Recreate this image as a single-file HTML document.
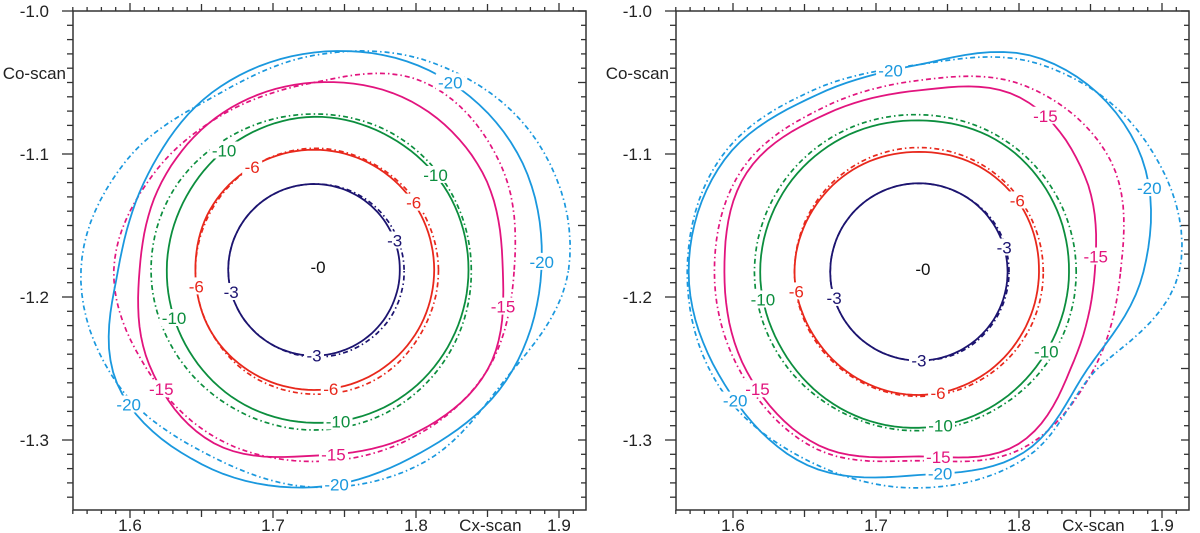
<!DOCTYPE html>
<html><head><meta charset="utf-8">
<style>
html,body{margin:0;padding:0;background:#fff;}
svg{display:block;font-family:"Liberation Sans",sans-serif;}
</style></head>
<body>
<svg id="chart" width="1200" height="533" viewBox="0 0 1200 533" xmlns="http://www.w3.org/2000/svg"></svg>
<script>
// ---- data ----
const levels = ["-3", "-6", "-10", "-15", "-20"];
const levelColors = ["#1c1470", "#e8281c", "#0c8e3e", "#e2147e", "#1a98de"];
const angles = [0, 30, 60, 90, 120, 150, 180, 210, 240, 270, 300, 330];
// left panel contour radii (data units) at each angle
const leftCenter = [1.7287, -1.181];
const leftSolid = [
  [0.060,0.060,0.060,0.060,0.060,0.060,0.060,0.060,0.060,0.060,0.060,0.060],
  [0.084,0.084,0.084,0.084,0.084,0.084,0.083,0.084,0.084,0.084,0.084,0.084],
  [0.108,0.108,0.107,0.107,0.105,0.103,0.103,0.104,0.106,0.107,0.108,0.108],
  [0.132,0.136,0.136,0.131,0.127,0.123,0.122,0.133,0.140,0.130,0.134,0.140],
  [0.159,0.164,0.161,0.152,0.143,0.134,0.137,0.159,0.157,0.152,0.148,0.155]
];
const leftDash = [
  [0.063,0.062,0.061,0.060,0.060,0.060,0.060,0.060,0.060,0.061,0.062,0.063],
  [0.087,0.086,0.085,0.085,0.084,0.083,0.083,0.084,0.086,0.087,0.088,0.087],
  [0.110,0.110,0.110,0.109,0.110,0.113,0.114,0.113,0.112,0.112,0.112,0.111],
  [0.140,0.150,0.152,0.131,0.126,0.131,0.140,0.136,0.136,0.134,0.136,0.140],
  [0.178,0.180,0.167,0.150,0.140,0.152,0.163,0.159,0.149,0.152,0.155,0.154]
];
// right panel
const rightCenter = [1.730, -1.1825];
const rightSolid = [
  [0.062,0.062,0.062,0.062,0.062,0.062,0.062,0.062,0.062,0.062,0.062,0.062],
  [0.084,0.085,0.085,0.084,0.085,0.086,0.087,0.086,0.086,0.086,0.085,0.084],
  [0.105,0.106,0.107,0.106,0.108,0.110,0.111,0.110,0.110,0.109,0.107,0.105],
  [0.123,0.134,0.141,0.127,0.128,0.139,0.136,0.139,0.140,0.129,0.139,0.125],
  [0.157,0.176,0.172,0.145,0.143,0.157,0.161,0.157,0.156,0.142,0.146,0.136]
];
const rightDash = [
  [0.063,0.063,0.062,0.062,0.062,0.062,0.062,0.062,0.062,0.062,0.063,0.063],
  [0.087,0.087,0.087,0.087,0.087,0.087,0.087,0.087,0.087,0.087,0.087,0.087],
  [0.110,0.110,0.110,0.110,0.112,0.114,0.115,0.114,0.112,0.111,0.110,0.110],
  [0.141,0.155,0.150,0.134,0.133,0.143,0.143,0.143,0.143,0.132,0.143,0.140],
  [0.182,0.183,0.168,0.145,0.147,0.160,0.162,0.161,0.153,0.151,0.150,0.141]
];
// labels: [levelIndex, angleDeg]
const leftLabels = [[0,20],[0,195],[0,270],[1,121],[1,34],[1,188],[1,278],[2,127],[2,38],[2,199],[2,279],[3,349],[3,218],[3,276],[4,54],[4,2],[4,216],[4,276]];
const rightLabels = [[0,16],[0,197],[0,270],[1,36],[1,189],[1,279],[2,328],[2,190],[2,278],[3,51],[3,5],[3,216],[3,276],[4,98],[4,20],[4,215],[4,276]];
const yTicks = ["-1.0", "-1.1", "-1.2", "-1.3"];
const xTicks = ["1.6", "1.7", "1.8", "1.9"];

// ---- drawing ----
const NS = "http://www.w3.org/2000/svg";
const svg = document.getElementById("chart");
const PXU = 1430; // px per data unit
function mk(tag, attrs, parent) {
  const e = document.createElementNS(NS, tag);
  for (const k in attrs) e.setAttribute(k, attrs[k]);
  (parent || svg).appendChild(e);
  return e;
}
function rInterp(rs, deg) {
  const n = rs.length, step = 360 / n;
  let t = ((deg % 360) + 360) % 360 / step;
  const i = Math.floor(t); t -= i;
  const p0 = rs[(i - 1 + n) % n], p1 = rs[i % n], p2 = rs[(i + 1) % n], p3 = rs[(i + 2) % n];
  return 0.5 * ((2 * p1) + (-p0 + p2) * t + (2 * p0 - 5 * p1 + 4 * p2 - p3) * t * t + (-p0 + 3 * p1 - 3 * p2 + p3) * t * t * t);
}
function panel(name, x0, center, solid, dash, labels) {
  const g = mk("g", {});
  
  
  const left = x0, right = x0 + 513, top = 11, bottom = 510;
  const sx = v => x0 + 57 + (v - 1.6) * PXU;
  const sy = v => 11 + (-1.0 - v) * PXU;
  const cx = sx(center[0]), cy = sy(center[1]);
  const pt = (rs, deg) => { const r = rInterp(rs, deg) * PXU; const a = deg * Math.PI / 180; return [cx + r * Math.cos(a), cy - r * Math.sin(a)]; };
  function pathOf(rs) {
    let d = "";
    for (let a = 0; a <= 360; a += 3) { const p = pt(rs, a); d += (a ? "L" : "M") + p[0].toFixed(1) + "," + p[1].toFixed(1); }
    return d + "Z";
  }
  for (let i = 0; i < levels.length; i++) {
    const pd = mk("path", { d: pathOf(dash[i]), fill: "none", stroke: levelColors[i], "stroke-width": 1.7, "stroke-dasharray": "5,3,1.5,3" }, g);
    
    
    const ps = mk("path", { d: pathOf(solid[i]), fill: "none", stroke: levelColors[i], "stroke-width": 1.8 }, g);
    
    
  }
  // labels
  const lab = (txt, x, y, col) => {
    const w = txt.length * 9 + 2;
    mk("rect", { x: x - w / 2, y: y - 9, width: w, height: 17, fill: "#fff" }, g);
    const t = mk("text", { x: x, y: y + 6, "text-anchor": "middle", "font-size": 17, fill: col }, g);
    t.textContent = txt;
    
    
  };
  labels.forEach(l => { const p = pt(solid[l[0]], l[1]); lab(levels[l[0]], p[0], p[1], levelColors[l[0]]); });
  lab("-0", cx + 4, cy - 3, "#111");
  // frame
  const fr = mk("rect", { x: left, y: top, width: right - left, height: bottom - top, fill: "none", stroke: "#333", "stroke-width": 1.5 }, g);
  
  
  // x ticks
  for (let k = 0; ; k++) {
    const v = 1.56 + k * 0.01; const x = sx(v); if (x > right + 0.5) break; if (x < left - 0.5) continue;
    const kk = Math.round(v * 100);
    const len = kk % 10 === 0 ? 8 : (kk % 5 === 0 ? 7 : 4);
    mk("line", { x1: x, y1: bottom, x2: x, y2: bottom + len, stroke: "#333", "stroke-width": 1.3 }, g);
    mk("line", { x1: x, y1: top, x2: x, y2: top - len, stroke: "#333", "stroke-width": 1.3 }, g);
  }
  // y ticks
  for (let k = 0; k <= 35; k++) {
    const v = -1.0 - k * 0.01; const y = sy(v); if (y > bottom + 0.5) break;
    const len = k % 10 === 0 ? 11 : 6;
    mk("line", { x1: left, y1: y, x2: left - len, y2: y, stroke: "#333", "stroke-width": 1.3 }, g);
    mk("line", { x1: right, y1: y, x2: right - (k % 5 === 0 ? 8 : 5), y2: y, stroke: "#333", "stroke-width": 1.3 }, g);
  }
  yTicks.forEach((s, i) => {
    const t = mk("text", { x: left - 24, y: sy(-1.0 - i * 0.1) + 6, "text-anchor": "end", "font-size": 17, fill: "#222" }, g);
    t.textContent = s;
    
    
  });
  xTicks.forEach((s, i) => {
    const t = mk("text", { x: sx(1.6 + i * 0.1), y: 531, "text-anchor": "middle", "font-size": 17, fill: "#222" }, g);
    t.textContent = s;
    
    
  });
  const xt = mk("text", { x: sx(1.852), y: 531, "text-anchor": "middle", "font-size": 17, fill: "#222" }, g);
  xt.textContent = "Cx-scan";
  
  
  const yt = mk("text", { x: left - 7, y: 79, "text-anchor": "end", "font-size": 17, fill: "#222" }, g);
  yt.textContent = "Co-scan";
  
  
}
panel("left-panel", 73, leftCenter, leftSolid, leftDash, leftLabels);
panel("right-panel", 676, rightCenter, rightSolid, rightDash, rightLabels);
</script>
</body></html>
